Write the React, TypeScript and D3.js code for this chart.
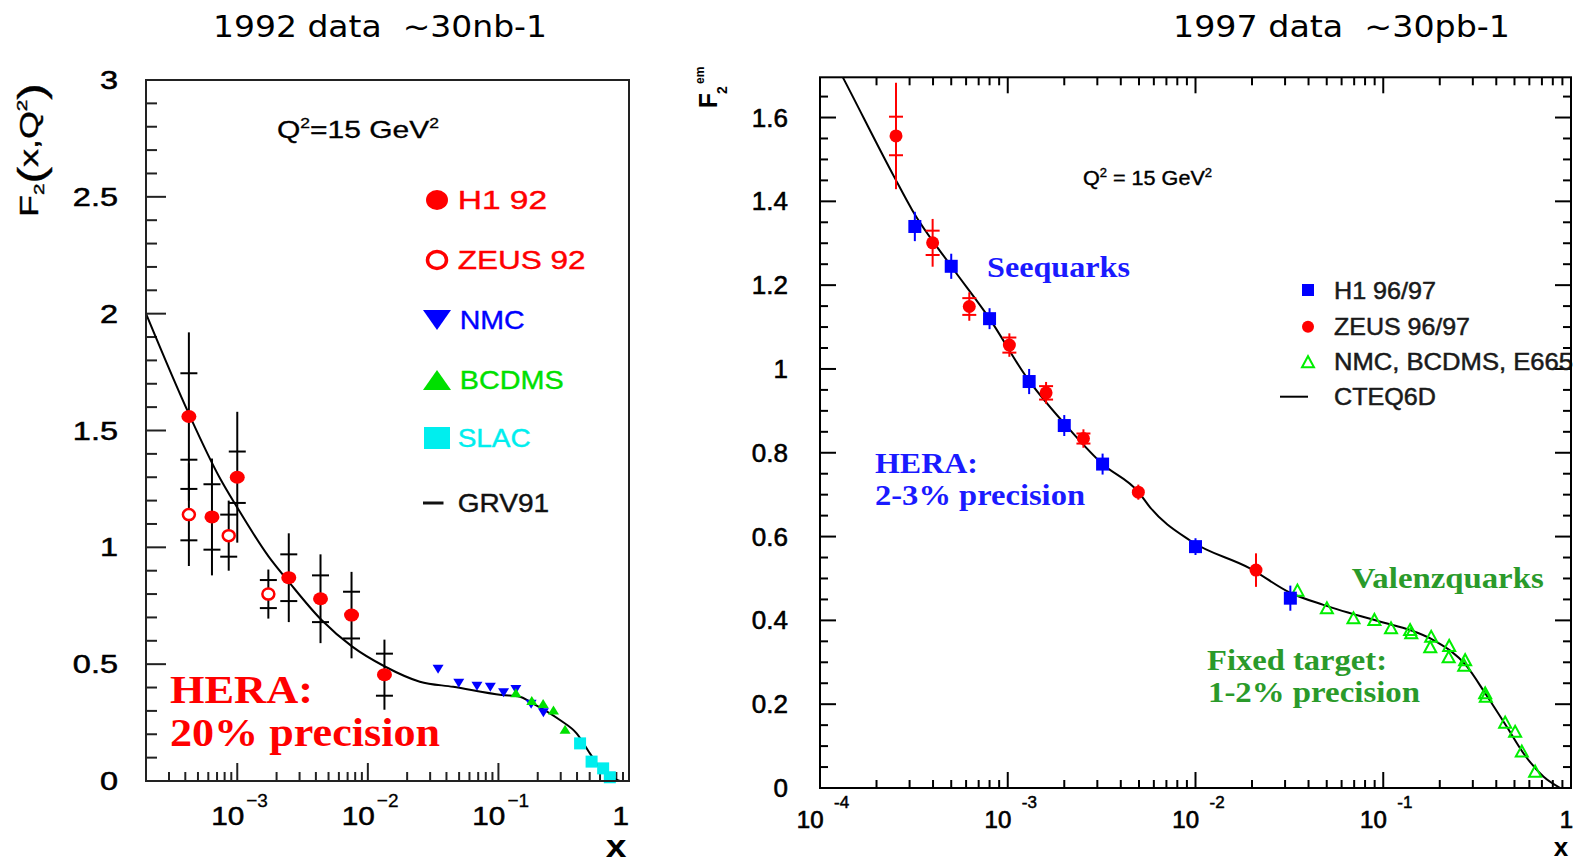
import React from 'react';
import * as d3 from 'd3';

const LEFT_TITLE = '1992 data  ~30nb-1';
const RIGHT_TITLE = '1997 data  ~30pb-1';

// ---------- Left panel (1992) : [x, F2, total err, stat err] ----------
const H1_92: number[][] = [
  [4.26e-4, 1.56, 0.36, 0.185],
  [6.4e-4, 1.13, 0.25, 0.14],
  [1.0e-3, 1.30, 0.28, 0.11],
  [2.48e-3, 0.87, 0.19, 0.10],
  [4.34e-3, 0.78, 0.19, 0.10],
  [7.5e-3, 0.71, 0.185, 0.10],
  [1.34e-2, 0.455, 0.15, 0.09],
];
const ZEUS_92: number[][] = [
  [4.26e-4, 1.14, 0.22, 0.11],
  [8.6e-4, 1.05, 0.15, 0.09],
  [1.73e-3, 0.80, 0.105, 0.06],
];
const NMC: number[][] = [
  [0.0345, 0.478], [0.0497, 0.418], [0.0685, 0.406], [0.0867, 0.401],
  [0.1095, 0.378], [0.136, 0.392], [0.178, 0.328], [0.221, 0.292],
];
const BCDMS: number[][] = [
  [0.136, 0.378], [0.18, 0.344], [0.22, 0.332], [0.264, 0.304], [0.324, 0.221],
];
const SLAC: number[][] = [
  [0.422, 0.161], [0.517, 0.083], [0.634, 0.054], [0.713, 0.016],
];
const GRV91: number[][] = [
  [2e-4, 2.0], [4.27e-4, 1.57], [7.3e-4, 1.30], [1.0e-3, 1.17], [1.74e-3, 0.96],
  [2.5e-3, 0.85], [4.4e-3, 0.69], [7.6e-3, 0.575], [1.35e-2, 0.49], [2.5e-2, 0.425],
  [4.5e-2, 0.403], [0.106, 0.368], [0.146, 0.361], [0.174, 0.339], [0.296, 0.261],
  [0.397, 0.204], [0.502, 0.118], [0.617, 0.047], [0.736, 0.016], [0.85, 0.0],
];

// ---------- Right panel (1997) ----------
// [x, F2, err]
const H1_9697: number[][] = [
  [3.2e-4, 1.34, 0.035], [5.0e-4, 1.245, 0.03], [8.0e-4, 1.12, 0.025], [1.3e-3, 0.97, 0.03],
  [2.0e-3, 0.865, 0.025], [3.2e-3, 0.773, 0.025], [1.0e-2, 0.576, 0.02], [3.2e-2, 0.453, 0.03],
];
// [x, F2, total err, stat err]
const ZEUS_9697: number[][] = [
  [2.54e-4, 1.556, 0.127, 0.046], [3.98e-4, 1.301, 0.057, 0.029], [6.24e-4, 1.149, 0.034, 0.02],
  [1.02e-3, 1.057, 0.028, 0.018], [1.6e-3, 0.943, 0.026, 0.016], [2.53e-3, 0.834, 0.022, 0.012],
  [4.96e-3, 0.706, 0.018, 0], [0.021, 0.52, 0.04, 0],
];
const FIXED_TARGET: number[][] = [
  [0.0349, 0.471], [0.0501, 0.429], [0.0694, 0.405], [0.0897, 0.401], [0.110, 0.381],
  [0.139, 0.377], [0.141, 0.369], [0.18, 0.361], [0.178, 0.336], [0.2245, 0.339],
  [0.223, 0.312], [0.273, 0.305], [0.27, 0.292], [0.349, 0.226], [0.352, 0.218],
  [0.446, 0.156], [0.504, 0.134], [0.547, 0.087], [0.644, 0.039],
];
const CTEQ6D: number[][] = [
  [1e-4, 1.80], [1.33e-4, 1.694], [2.5e-4, 1.456], [3.1e-4, 1.379], [5e-4, 1.245],
  [8e-4, 1.12], [1.26e-3, 0.98], [2e-3, 0.87], [3.16e-3, 0.775], [5e-3, 0.705],
  [5.7e-3, 0.671], [9.4e-3, 0.59], [0.0195, 0.524], [0.0319, 0.466], [0.048, 0.437],
  [0.1, 0.395], [0.139, 0.377], [0.185, 0.353], [0.279, 0.29], [0.349, 0.226],
  [0.455, 0.146], [0.558, 0.083], [0.715, 0.027], [0.877, 0.0],
];

const LEFT_Y_TICKS = [0, 0.5, 1, 1.5, 2, 2.5, 3];
const LEFT_Y_LABELS = ['0', '0.5', '1', '1.5', '2', '2.5', '3'];
const LEFT_X_TICKS = [1e-3, 1e-2, 1e-1];
const LEFT_X_EXPS = ['−3', '−2', '−1'];
const RIGHT_Y_TICKS = [0, 0.2, 0.4, 0.6, 0.8, 1, 1.2, 1.4, 1.6];
const RIGHT_Y_LABELS = ['0', '0.2', '0.4', '0.6', '0.8', '1', '1.2', '1.4', '1.6'];
const RIGHT_X_TICKS = [1e-4, 1e-3, 1e-2, 1e-1];
const RIGHT_X_EXPS = ['-4', '-3', '-2', '-1'];

const LEFT_LEGEND = ['H1 92', 'ZEUS 92', 'NMC', 'BCDMS', 'SLAC', 'GRV91'];
const RIGHT_LEGEND = ['H1 96/97', 'ZEUS 96/97', 'NMC, BCDMS, E665', 'CTEQ6D'];

const SANS = '"Liberation Sans", Arial, sans-serif';
const SERIF = '"Liberation Serif", "Times New Roman", serif';
const TITLE_FONT = '"Comic Sans MS", "DejaVu Sans", sans-serif';
const RED = '#ff0000';
const BLUE = '#0000ff';
const LGREEN = '#00e000';
const CYAN = '#00eeee';
const TGREEN = '#2a9a2a';
const TRI = '#00ee00';

const isDecade = (v: number) => Math.abs(Math.log10(v) - Math.round(Math.log10(v))) < 1e-6;

export default function App() {
  const xL = d3.scaleLog().domain([2e-4, 1]).range([146, 629]);
  const yL = d3.scaleLinear().domain([0, 3]).range([781, 80]);
  const xR = d3.scaleLog().domain([1e-4, 1]).range([820, 1571]);
  const yR = d3.scaleLinear().domain([0, 1.696]).range([788, 77.3]);

  const lineL = d3.line<number[]>().x(d => xL(d[0])).y(d => yL(d[1])).curve(d3.curveMonotoneX);
  const lineR = d3.line<number[]>().x(d => xR(d[0])).y(d => yR(d[1])).curve(d3.curveMonotoneX);

  const xLTicks = xL.ticks().filter(v => v > 2.01e-4 && v < 0.999);
  const yLMinor = d3.range(1, 30).map(i => i / 10);
  const xRTicks = xR.ticks().filter(v => v > 1.01e-4 && v < 0.999);
  const yRMinor = d3.range(1, 34).map(i => i * 0.05);

  const [l0, l1] = xL.range();
  const [b0, t0] = yL.range();
  const [r0, r1] = xR.range();
  const [b1, t1] = yR.range();

  const legY = [200, 260, 320, 380, 438, 503];
  const legW = [89.5, 128, 65, 104, 73, 91.5];
  const legC = [RED, RED, BLUE, LGREEN, CYAN, '#111'];
  const rLegY = [290, 326.7, 361.7, 396.7];
  const rLegW = [102, 136, 239, 102];

  return (
    <svg width={1576} height={863} style={{ position: 'absolute', left: 0, top: 0, background: '#fff' }}>
      <defs>
        <clipPath id="clipR"><rect x={r0} y={t1} width={r1 - r0} height={b1 - t1} /></clipPath>
        <clipPath id="clipL"><rect x={l0} y={t0} width={l1 - l0} height={b0 - t0} /></clipPath>
      </defs>
      <rect x={0} y={0} width={1576} height={863} fill="#fff" />

      {/* Titles */}
      <text x={213} y={37} fontFamily={TITLE_FONT} fontSize={30} textLength={334} lengthAdjust="spacingAndGlyphs" style={{ whiteSpace: 'pre' }}>{LEFT_TITLE}</text>
      <text x={1173} y={37} fontFamily={TITLE_FONT} fontSize={30} textLength={337} lengthAdjust="spacingAndGlyphs" style={{ whiteSpace: 'pre' }}>{RIGHT_TITLE}</text>

      {/* ================= LEFT PANEL ================= */}
      <g>
        {yLMinor.map(v => {
          const major = Math.abs(v * 2 - Math.round(v * 2)) < 1e-6;
          return <line key={'ly' + v} x1={l0} x2={l0 + (major ? 20 : 11)} y1={yL(v)} y2={yL(v)} stroke="#222" strokeWidth={2} />;
        })}
        {xLTicks.map(v => (
          <line key={'lx' + v} x1={xL(v)} x2={xL(v)} y1={b0} y2={b0 - (isDecade(v) ? 18 : 9)} stroke="#222" strokeWidth={2} />
        ))}
        {LEFT_Y_TICKS.map((v, i) => (
          <text key={'lyl' + v} transform={`translate(118,${yL(v) + 9}) scale(1.3,1)`} textAnchor="end" fontFamily={SANS} fontSize={25} stroke="#000" strokeWidth={0.5}>{LEFT_Y_LABELS[i]}</text>
        ))}
        {LEFT_X_TICKS.map((v, i) => (
          <g key={'lxl' + v}>
            <text transform={`translate(${xL(v) + 7},825) scale(1.19,1)`} textAnchor="end" fontFamily={SANS} fontSize={25} stroke="#000" strokeWidth={0.5}>10</text>
            <text x={xL(v) + 9} y={807} fontFamily={SANS} fontSize={19} stroke="#000" strokeWidth={0.3}>{LEFT_X_EXPS[i]}</text>
          </g>
        ))}
        <text transform={`translate(${l1},825) scale(1.19,1)`} textAnchor="end" fontFamily={SANS} fontSize={25} stroke="#000" strokeWidth={0.5}>1</text>
        <text transform="translate(616,857) scale(1.2,1)" textAnchor="middle" fontFamily={SANS} fontWeight="bold" fontSize={31}>x</text>
        <text transform="translate(38,217) rotate(-90) scale(1.38,1)" fontFamily={SANS} fontSize={26} stroke="#000" strokeWidth={0.4}>
          F<tspan fontSize={15} dy={6}>2</tspan><tspan fontSize={36} dy={0}>(</tspan><tspan dy={-6}>x,Q</tspan><tspan fontSize={15} dy={-11}>2</tspan><tspan fontSize={36} dy={17}>)</tspan>
        </text>

        {/* Q2 annotation */}
        <text transform="translate(277,138) scale(1.25,1)" fontFamily={SANS} fontSize={24} stroke="#000" strokeWidth={0.3}>
          Q<tspan fontSize={14} dy={-10}>2</tspan><tspan dy={10}>=15 GeV</tspan><tspan fontSize={14} dy={-10}>2</tspan>
        </text>

        {/* Legend */}
        <ellipse cx={437} cy={legY[0]} rx={11} ry={10} fill={RED} />
        <ellipse cx={437} cy={legY[1]} rx={9.5} ry={8.5} fill="none" stroke={RED} strokeWidth={3.5} />
        <path d={`M${423},${legY[2] - 10} L${451},${legY[2] - 10} L${437},${legY[2] + 10} Z`} fill={BLUE} />
        <path d={`M${423},${legY[3] + 10} L${451},${legY[3] + 10} L${437},${legY[3] - 10} Z`} fill={LGREEN} />
        <rect x={424} y={legY[4] - 11} width={26} height={22} fill={CYAN} />
        <line x1={423} x2={443.5} y1={legY[5]} y2={legY[5]} stroke="#111" strokeWidth={3} />
        {LEFT_LEGEND.map((t, i) => (
          <text key={'lleg' + t} x={i === 2 || i === 3 ? 459.7 : 457.7} y={legY[i] + 9.3} fontFamily={SANS} fontSize={26}
            fill={legC[i]} stroke={legC[i]} strokeWidth={0.4} textLength={legW[i]} lengthAdjust="spacingAndGlyphs">{t}</text>
        ))}

        {/* HERA text */}
        <text x={170} y={703} fontFamily={SERIF} fontWeight="bold" fontSize={39} fill={RED} textLength={143} lengthAdjust="spacingAndGlyphs">HERA:</text>
        <text x={170} y={746} fontFamily={SERIF} fontWeight="bold" fontSize={39} fill={RED} textLength={270} lengthAdjust="spacingAndGlyphs">20% precision</text>

        {/* Curve */}
        <path d={lineL(GRV91) || ''} fill="none" stroke="#000" strokeWidth={2} clipPath="url(#clipL)" />

        {/* Error bars (black) */}
        {[...H1_92, ...ZEUS_92].map((d, i) => {
          const x = xL(d[0]);
          return (
            <g key={'leb' + i} stroke="#000" strokeWidth={2}>
              <line x1={x} x2={x} y1={yL(d[1] + d[2])} y2={yL(d[1] - d[2])} />
              <line x1={x - 8.5} x2={x + 8.5} y1={yL(d[1] + d[3])} y2={yL(d[1] + d[3])} />
              <line x1={x - 8.5} x2={x + 8.5} y1={yL(d[1] - d[3])} y2={yL(d[1] - d[3])} />
            </g>
          );
        })}
        {H1_92.map((d, i) => <ellipse key={'lh1' + i} cx={xL(d[0])} cy={yL(d[1])} rx={7.5} ry={6.5} fill={RED} />)}
        {ZEUS_92.map((d, i) => <ellipse key={'lz' + i} cx={xL(d[0])} cy={yL(d[1])} rx={6} ry={5.5} fill="#fff" stroke={RED} strokeWidth={2.5} />)}
        {NMC.map((d, i) => {
          const x = xL(d[0]), y = yL(d[1]);
          return <path key={'ln' + i} d={`M${x - 5.5},${y - 4.5} L${x + 5.5},${y - 4.5} L${x},${y + 4.5} Z`} fill={BLUE} />;
        })}
        {BCDMS.map((d, i) => {
          const x = xL(d[0]), y = yL(d[1]);
          return <path key={'lb' + i} d={`M${x - 5.5},${y + 4.5} L${x + 5.5},${y + 4.5} L${x},${y - 4.5} Z`} fill={LGREEN} />;
        })}
        {SLAC.map((d, i) => <rect key={'ls' + i} x={xL(d[0]) - 6} y={yL(d[1]) - 6} width={12} height={12} fill={CYAN} />)}

        <rect x={l0} y={t0} width={l1 - l0} height={b0 - t0} fill="none" stroke="#222" strokeWidth={2} />
      </g>

      {/* ================= RIGHT PANEL ================= */}
      <g>
        {yRMinor.map((v, i) => {
          const major = (i + 1) % 4 === 0;
          const len = major ? 16 : 8;
          return (
            <g key={'ry' + i} stroke="#000" strokeWidth={2}>
              <line x1={r0} x2={r0 + len} y1={yR(v)} y2={yR(v)} />
              <line x1={r1} x2={r1 - len} y1={yR(v)} y2={yR(v)} />
            </g>
          );
        })}
        {xRTicks.map(v => {
          const len = isDecade(v) ? 16 : 8;
          return (
            <g key={'rx' + v} stroke="#000" strokeWidth={2}>
              <line x1={xR(v)} x2={xR(v)} y1={b1} y2={b1 - len} />
              <line x1={xR(v)} x2={xR(v)} y1={t1} y2={t1 + len} />
            </g>
          );
        })}
        {RIGHT_Y_TICKS.map((v, i) => (
          <text key={'ryl' + v} x={788} y={yR(v) + 9} textAnchor="end" fontFamily={SANS} fontSize={26} stroke="#000" strokeWidth={0.6}>{RIGHT_Y_LABELS[i]}</text>
        ))}
        {RIGHT_X_TICKS.map((v, i) => (
          <g key={'rxl' + v}>
            <text x={xR(v) + 3.5} y={828} textAnchor="end" fontFamily={SANS} fontSize={24} stroke="#000" strokeWidth={0.7}>10</text>
            <text x={xR(v) + 14} y={808} fontFamily={SANS} fontSize={17} stroke="#000" strokeWidth={0.5}>{RIGHT_X_EXPS[i]}</text>
          </g>
        ))}
        <text x={r1 + 2} y={828} textAnchor="end" fontFamily={SANS} fontSize={24} stroke="#000" strokeWidth={0.7}>1</text>
        <text x={1561} y={856} textAnchor="middle" fontFamily={SANS} fontWeight="bold" fontSize={26}>x</text>

        {/* F2^em label */}
        <text transform="translate(716.7,108.3) rotate(-90)" fontFamily={SANS} fontWeight="bold" fontSize={25}>F</text>
        <text transform="translate(727,94) rotate(-90)" fontFamily={SANS} fontWeight="bold" fontSize={14}>2</text>
        <text transform="translate(703.5,84) rotate(-90)" fontFamily={SANS} fontWeight="bold" fontSize={12}>em</text>

        {/* Q2 annotation */}
        <text transform="translate(1083,185) scale(1.08,1)" fontFamily={SANS} fontSize={20} stroke="#000" strokeWidth={0.4}>
          Q<tspan fontSize={12} dy={-8}>2</tspan><tspan dy={8}> = 15 GeV</tspan><tspan fontSize={12} dy={-8}>2</tspan>
        </text>

        {/* Annotations */}
        <text x={987} y={277} fontFamily={SERIF} fontWeight="bold" fontSize={30} fill="#1a1aff" textLength={143} lengthAdjust="spacingAndGlyphs">Seequarks</text>
        <text x={875} y={473} fontFamily={SERIF} fontWeight="bold" fontSize={30} fill="#1a1aff" textLength={103} lengthAdjust="spacingAndGlyphs">HERA:</text>
        <text x={875} y={505} fontFamily={SERIF} fontWeight="bold" fontSize={30} fill="#1a1aff" textLength={210} lengthAdjust="spacingAndGlyphs">2-3% precision</text>
        <text x={1351.7} y={588} fontFamily={SERIF} fontWeight="bold" fontSize={30} fill={TGREEN} textLength={192} lengthAdjust="spacingAndGlyphs">Valenzquarks</text>
        <text x={1207} y={670} fontFamily={SERIF} fontWeight="bold" fontSize={30} fill={TGREEN} textLength={180} lengthAdjust="spacingAndGlyphs">Fixed target:</text>
        <text x={1208} y={702} fontFamily={SERIF} fontWeight="bold" fontSize={30} fill={TGREEN} textLength={212} lengthAdjust="spacingAndGlyphs">1-2% precision</text>

        {/* Legend */}
        <rect x={1302} y={rLegY[0] - 6} width={12} height={12} fill={BLUE} />
        <circle cx={1308} cy={rLegY[1]} r={6} fill={RED} />
        <path d={`M${1302},${rLegY[2] + 5.5} L${1314},${rLegY[2] + 5.5} L${1308},${rLegY[2] - 5.5} Z`} fill="none" stroke={TRI} strokeWidth={2} />
        <line x1={1280} x2={1308} y1={rLegY[3]} y2={rLegY[3]} stroke="#000" strokeWidth={2} />
        {RIGHT_LEGEND.map((t, i) => (
          <text key={'rleg' + t} x={1334} y={rLegY[i] + 8.5} fontFamily={SANS} fontSize={24} fill="#1a1a1a" stroke="#1a1a1a" strokeWidth={0.5}
            textLength={rLegW[i]} lengthAdjust="spacingAndGlyphs">{t}</text>
        ))}

        {/* Curve */}
        <path d={lineR(CTEQ6D) || ''} fill="none" stroke="#000" strokeWidth={2} clipPath="url(#clipR)" />

        {/* Fixed target */}
        {FIXED_TARGET.map((d, i) => {
          const x = xR(d[0]), y = yR(d[1]);
          return <path key={'rf' + i} d={`M${x - 6},${y + 5} L${x + 6},${y + 5} L${x},${y - 6} Z`} fill="none" stroke={TRI} strokeWidth={2} />;
        })}

        {/* H1 96/97 */}
        {H1_9697.map((d, i) => {
          const x = xR(d[0]);
          return (
            <g key={'rh' + i}>
              <line x1={x} x2={x} y1={yR(d[1] + d[2])} y2={yR(d[1] - d[2])} stroke={BLUE} strokeWidth={2} />
              <rect x={x - 6.5} y={yR(d[1]) - 6.5} width={13} height={13} fill={BLUE} />
            </g>
          );
        })}
        {/* ZEUS 96/97 */}
        {ZEUS_9697.map((d, i) => {
          const x = xR(d[0]);
          return (
            <g key={'rz' + i} stroke={RED} strokeWidth={2}>
              <line x1={x} x2={x} y1={yR(d[1] + d[2])} y2={yR(d[1] - d[2])} />
              {d[3] > 0 && <line x1={x - 7} x2={x + 7} y1={yR(d[1] + d[3])} y2={yR(d[1] + d[3])} />}
              {d[3] > 0 && <line x1={x - 7} x2={x + 7} y1={yR(d[1] - d[3])} y2={yR(d[1] - d[3])} />}
              <circle cx={x} cy={yR(d[1])} r={6.5} fill={RED} stroke="none" />
            </g>
          );
        })}

        <rect x={r0} y={t1} width={r1 - r0} height={b1 - t1} fill="none" stroke="#000" strokeWidth={2} />
      </g>
    </svg>
  );
}
